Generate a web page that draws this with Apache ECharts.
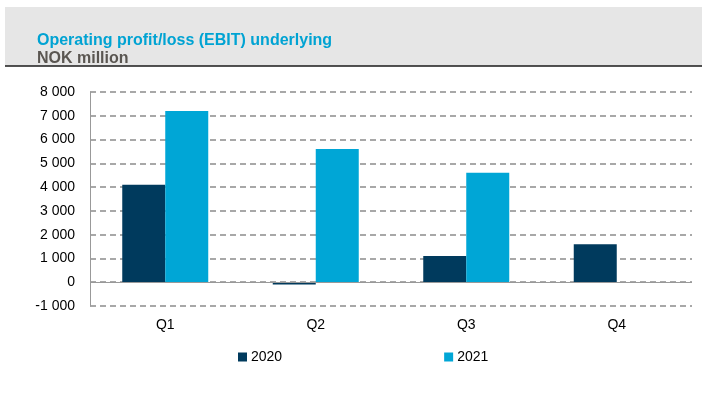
<!DOCTYPE html>
<html>
<head>
<meta charset="utf-8">
<script src="https://cdn.jsdelivr.net/npm/echarts@6/dist/echarts.min.js"></script>
<style>
  html, body { margin: 0; padding: 0; background: #fff; }
  #chart { width: 702px; height: 412px; }
</style>
</head>
<body>
<div id="chart"></div>
<script>
// chart data
var quarters = ['Q1', 'Q2', 'Q3', 'Q4'];
var seriesNames = ['2020', '2021'];
var values2020 = [4100, -100, 1100, 1600];
var values2021 = [7200, 5600, 4600, null];

var chart = echarts.init(document.getElementById('chart'));

function fmt(v) {
  var s = String(Math.abs(v)).replace(/\B(?=(\d{3})+(?!\d))/g, ' ');
  return (v < 0 ? '-' : '') + s;
}

var headFont = 'bold 16px "Liberation Sans", Arial, sans-serif';

chart.setOption({
  animation: false,
  textStyle: { fontFamily: 'Liberation Sans, Arial, sans-serif' },
  graphic: [
    { type: 'rect', shape: { x: 5, y: 7, width: 697, height: 59 }, style: { fill: '#e6e6e6' }, z: -1 },
    { type: 'line', shape: { x1: 5, y1: 66, x2: 702, y2: 66 }, style: { stroke: '#1a1a1a', lineWidth: 1.5 } },
    { type: 'text', x: 37, y: 33,
      style: { text: 'Operating profit/loss (EBIT) underlying', font: headFont, fill: '#00a3d3' } },
    { type: 'text', x: 37, y: 51,
      style: { text: 'NOK million', font: headFont, fill: '#5a5651' } }
  ],
  legend: {
    data: seriesNames,
    left: 233,
    top: 345,
    itemWidth: 9,
    itemHeight: 9,
    itemGap: 162,
    icon: 'rect',
    textStyle: { fontSize: 14, color: '#000', padding: [0, 0, 0, -1] }
  },
  grid: { left: 90, right: 10, top: 92, height: 214 },
  xAxis: {
    type: 'category',
    data: quarters,
    axisLine: { show: false },
    axisTick: { show: false },
    axisLabel: { fontSize: 14, color: '#000', margin: 12 }
  },
  yAxis: {
    type: 'value',
    min: -1000,
    max: 8000,
    interval: 1000,
    axisLine: { show: true, lineStyle: { color: '#999' } },
    axisTick: { show: false },
    axisLabel: { fontSize: 14, color: '#000', margin: 15, formatter: fmt },
    splitLine: { lineStyle: { color: '#8c8c8c', type: [6, 4], width: 1.5 } }
  },
  series: [
    {
      name: '2020', type: 'bar', data: values2020,
      barWidth: 43, barGap: '0%',
      itemStyle: { color: '#003a5d' },
      markLine: {
        silent: true, symbol: 'none', label: { show: false },
        lineStyle: { color: '#999', type: 'solid', width: 1 },
        data: [{ yAxis: 0 }]
      }
    },
    {
      name: '2021', type: 'bar', data: values2021,
      barWidth: 43,
      itemStyle: { color: '#00a6d6' }
    }
  ]
});
</script>
</body>
</html>
